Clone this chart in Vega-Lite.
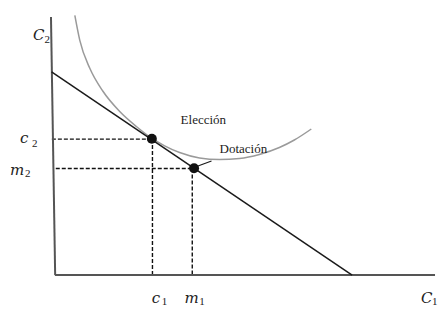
{
  "$schema": "https://vega.github.io/schema/vega-lite/v6.json",
  "width": 440,
  "height": 309,
  "autosize": {"type": "fit", "contains": "padding"},
  "padding": 0,
  "background": "white",
  "config": {"view": {"stroke": null}},
  "datasets": {
    "axes": [
      {"seg": "v", "x": -1.3, "y": 86},
      {"seg": "v", "x": 0.1, "y": 0},
      {"seg": "h", "x": 0, "y": 0},
      {"seg": "h", "x": 127, "y": 0}
    ],
    "budget": [
      {"x": -1.1, "y": 67.7},
      {"x": 99.3, "y": 0}
    ],
    "curve": [
      {"x": 6.67, "y": 86.57},
      {"x": 8.33, "y": 78.23},
      {"x": 11.67, "y": 68.9},
      {"x": 16, "y": 61.33},
      {"x": 21.67, "y": 54.5},
      {"x": 27.33, "y": 49.42},
      {"x": 32.33, "y": 45.6},
      {"x": 36.67, "y": 43.07},
      {"x": 41.67, "y": 40.83},
      {"x": 48.33, "y": 39.03},
      {"x": 55, "y": 38.5},
      {"x": 61.67, "y": 38.83},
      {"x": 68.33, "y": 40.17},
      {"x": 75, "y": 42.5},
      {"x": 80, "y": 45},
      {"x": 85.67, "y": 48.67}
    ],
    "dashes": [
      {"seg": "c2", "x": -1, "y": 45.3},
      {"seg": "c2", "x": 32.4, "y": 45.3},
      {"seg": "c1", "x": 32.6, "y": 45.3},
      {"seg": "c1", "x": 32.6, "y": 0},
      {"seg": "m2", "x": 0.3, "y": 35.5},
      {"seg": "m2", "x": 46.3, "y": 35.5},
      {"seg": "m1", "x": 45.9, "y": 35.5},
      {"seg": "m1", "x": 45.9, "y": 0}
    ],
    "pointer": [
      {"x": 46, "y": 35.67},
      {"x": 52.33, "y": 38}
    ],
    "points": [
      {"name": "Elección", "x": 32.4, "y": 45.4},
      {"name": "Dotación", "x": 46.5, "y": 35.6}
    ],
    "words": [
      {"label": "Elección", "x": 42, "y": 50.33},
      {"label": "Dotación", "x": 55, "y": 40.67}
    ],
    "mains": [
      {"label": "C", "x": -7.33, "y": 78.33},
      {"label": "c", "x": -11.67, "y": 44},
      {"label": "m", "x": -15, "y": 33.33},
      {"label": "c", "x": 32.33, "y": -9.33},
      {"label": "m", "x": 43.33, "y": -9.33},
      {"label": "C", "x": 122.33, "y": -9.33}
    ],
    "subs": [
      {"label": "2", "x": -3.5, "y": 77.33},
      {"label": "2", "x": -7.67, "y": 42.67},
      {"label": "2", "x": -10, "y": 32.67},
      {"label": "1", "x": 35.67, "y": -10},
      {"label": "1", "x": 48.2, "y": -10},
      {"label": "1", "x": 126, "y": -10}
    ]
  },
  "encoding": {
    "x": {"field": "x", "type": "quantitative", "scale": {"domain": [-18.33, 128.33], "nice": false, "zero": false}, "axis": null},
    "y": {"field": "y", "type": "quantitative", "scale": {"domain": [-11.33, 91.67], "nice": false, "zero": false}, "axis": null}
  },
  "layer": [
    {
      "data": {"name": "curve"},
      "mark": {"type": "line", "color": "#9a9a9a", "strokeWidth": 1.5, "interpolate": "monotone"}
    },
    {
      "data": {"name": "dashes"},
      "mark": {"type": "line", "color": "#111111", "strokeWidth": 1.4, "strokeDash": [4, 2]},
      "encoding": {"detail": {"field": "seg"}, "order": {"value": 0}}
    },
    {
      "data": {"name": "axes"},
      "mark": {"type": "line", "color": "#555555", "strokeWidth": 2},
      "encoding": {"detail": {"field": "seg"}, "order": {"value": 0}}
    },
    {
      "data": {"name": "budget"},
      "mark": {"type": "line", "color": "#1a1a1a", "strokeWidth": 1.5}
    },
    {
      "data": {"name": "pointer"},
      "mark": {"type": "line", "color": "#1a1a1a", "strokeWidth": 1.2}
    },
    {
      "data": {"name": "points"},
      "mark": {"type": "point", "filled": true, "color": "#111111", "size": 100, "opacity": 1}
    },
    {
      "data": {"name": "words"},
      "mark": {"type": "text", "align": "left", "baseline": "alphabetic", "font": "Liberation Serif", "fontSize": 13, "color": "#222222"},
      "encoding": {"text": {"field": "label"}}
    },
    {
      "data": {"name": "mains"},
      "mark": {"type": "text", "align": "left", "baseline": "alphabetic", "font": "DejaVu Serif", "fontStyle": "italic", "fontSize": 15, "color": "#222222"},
      "encoding": {"text": {"field": "label"}}
    },
    {
      "data": {"name": "subs"},
      "mark": {"type": "text", "align": "left", "baseline": "alphabetic", "font": "Liberation Serif", "fontSize": 11, "color": "#222222"},
      "encoding": {"text": {"field": "label"}}
    }
  ]
}
